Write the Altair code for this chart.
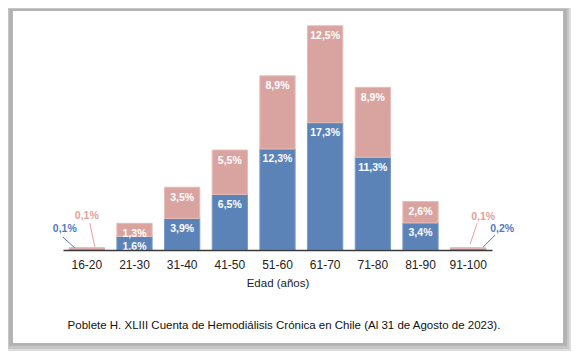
import altair as alt
import pandas as pd

cats = ["16-20", "21-30", "31-40", "41-50", "51-60", "61-70", "71-80", "81-90", "91-100"]
# bar heights as drawn in the picture (segment lengths)
blue_h = [0.12, 1.65, 3.84, 6.77, 12.3, 15.5, 11.3, 3.3, 0.15]
pink_h = [0.18, 1.6, 3.8, 5.4, 8.9, 11.8, 8.5, 2.6, 0.15]
# printed labels
blue_lbl = ["0,1%", "1,6%", "3,9%", "6,5%", "12,3%", "17,3%", "11,3%", "3,4%", "0,2%"]
pink_lbl = ["0,1%", "1,3%", "3,5%", "5,5%", "8,9%", "12,5%", "8,9%", "2,6%", "0,1%"]
outer = ["16-20", "91-100"]
caption = "Poblete H. XLIII Cuenta de Hemodiálisis Crónica en Chile (Al 31 de Agosto de 2023)."

rows = []
for c, bh, ph, bl, pl in zip(cats, blue_h, pink_h, blue_lbl, pink_lbl):
    rows.append({"cat": c, "series": "A", "lo": 0.0, "hi": bh, "label": bl})
    rows.append({"cat": c, "series": "B", "lo": bh, "hi": bh + ph, "label": pl})
df = pd.DataFrame(rows)

BLUE = "#5b83b8"
PINK = "#d9a4a0"
BLUE_T = "#5479bd"
PINK_T = "#e3a29b"
FONT = "Liberation Sans"

xenc = alt.X("cat:N", sort=cats,
             scale=alt.Scale(domain=cats, paddingInner=0.26, paddingOuter=0.13),
             axis=alt.Axis(title="Edad (años)", labelAngle=0, ticks=False,
                           domainColor="#3a3a3a", domainWidth=1.5,
                           labelFontSize=12, labelColor="#222222", labelFont=FONT,
                           labelPadding=9, titleFont=FONT, titleFontSize=11.5,
                           titleFontWeight="normal", titleColor="#222222",
                           titlePadding=7, zindex=2))
yscale = alt.Scale(domain=[0, 28], nice=False, zero=True)

one = alt.Data(values=[{"a": 1}])
def frame_rect(color, x1, x2, y1, y2):
    return alt.Chart(one).mark_rect(color=color).encode(
        x=alt.value(x1), x2=alt.value(x2), y=alt.value(y1), y2=alt.value(y2))

bg = [
    frame_rect("#dcdcdc", -55, 508, -12, 331),
    frame_rect("#c6c6c6", -55, 506, -12, 329),
    frame_rect("#b3b3b3", -54, 504, -11, 326),
    frame_rect("#ffffff", -50, 500, -9, 323),
]

base = alt.Chart(df)

bars = base.mark_bar(strokeWidth=1).encode(
    x=xenc,
    y=alt.Y("lo:Q", scale=yscale, axis=None),
    y2="hi:Q",
    color=alt.Color("series:N", scale=alt.Scale(domain=["A", "B"], range=[BLUE, PINK]), legend=None),
    stroke=alt.Stroke("series:N", scale=alt.Scale(domain=["A", "B"], range=["#7a9bc8", "#e6bcb8"]), legend=None),
)

inside = base.transform_filter(
    alt.FieldOneOfPredicate(field="cat", oneOf=[c for c in cats if c not in outer])
).mark_text(color="white", fontWeight="bold", fontSize=10.5, font=FONT,
            baseline="middle", dy=10.5).encode(
    x=alt.X("cat:N", sort=cats), y=alt.Y("hi:Q", scale=yscale), text="label:N")

def outside(cat, series, color, dx, dy, rx1, ry1, rx2, ry2):
    b = base.transform_filter(
        f"datum.cat == '{cat}' && datum.series == '{series}'"
    ).transform_calculate(zero="0")
    t = b.mark_text(color=color, fontWeight="bold", fontSize=10.5, font=FONT,
                    baseline="middle", dx=dx, dy=dy).encode(
        x=alt.X("cat:N", sort=cats), y=alt.Y("zero:Q", scale=yscale), text="label:N")
    r = b.mark_rule(color=color, strokeWidth=1, xOffset=rx1, x2Offset=rx2,
                    yOffset=ry1, y2Offset=ry2).encode(
        x=alt.X("cat:N", sort=cats), x2="cat:N",
        y=alt.Y("zero:Q", scale=yscale), y2="zero:Q")
    return [t, r]

ann = []
ann += outside("16-20", "A", BLUE_T, -22, -21, -24, -13, -12, -2)
ann += outside("16-20", "B", PINK_T, 0, -34, 3, -27, 8, -3)
ann += outside("91-100", "B", PINK_T, 15, -33, 9, -27, 2, -6)
ann += outside("91-100", "A", BLUE_T, 34, -21, 27, -15, 15, -3)

cap = alt.Chart(alt.Data(values=[{"t": caption}])).mark_text(
    font=FONT, fontSize=11.5, color="#111111", baseline="middle", align="center"
).encode(x=alt.value(221), y=alt.value(306), text="t:N")

chart = alt.layer(*bg, bars, inside, *ann, cap).properties(
    width=429, height=230,
    autosize=alt.AutoSizeParams(type="none"),
    padding={"left": 55, "top": 12, "right": 82, "bottom": 101},
    background="white",
).configure_view(stroke=None)

chart.save("out.html", embed_options={"renderer": "svg", "actions": False})
